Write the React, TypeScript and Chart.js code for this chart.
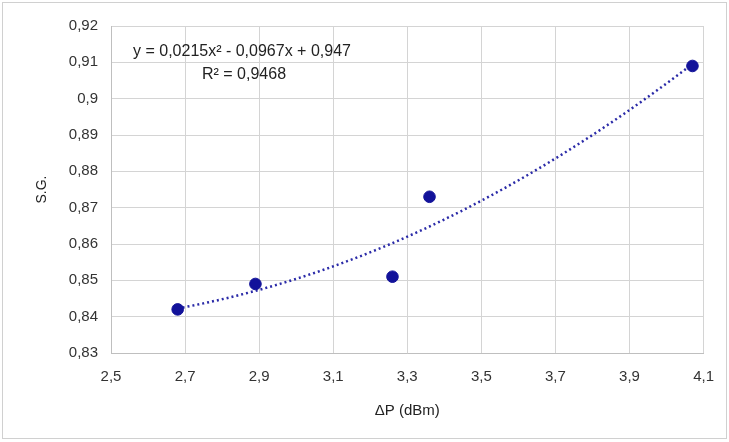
import React, { useEffect, useRef } from "react";
import { Chart, registerables } from "chart.js";

Chart.register(...registerables);

const deltaP = [2.68, 2.89, 3.26, 3.36, 4.07];
const specificGravity = [0.842, 0.849, 0.851, 0.873, 0.909];
// Excel polynomial trendline coefficients as printed on the chart: y = a x² + b x + c
const trendCoefficients = [0.0215, -0.0967, 0.947];
const trendLabel = "y = 0,0215x² - 0,0967x + 0,947";
const r2Label = "R² = 0,9468";
const xTitle = "ΔP (dBm)";
const yTitle = "S.G.";

const FONT = "'Liberation Sans', 'DejaVu Sans', sans-serif";

function fmt(v: number): string {
  return String(Math.round(v * 1000) / 1000).replace(".", ",");
}

export default function App() {
  const ref = useRef<HTMLCanvasElement | null>(null);

  useEffect(() => {
    if (!ref.current) return;
    const [a, b, c] = trendCoefficients;
    const x0 = deltaP[0];
    const x1 = deltaP[deltaP.length - 1];
    const steps = 60;
    const trend: { x: number; y: number }[] = [];
    for (let i = 0; i <= steps; i++) {
      const x = x0 + ((x1 - x0) * i) / steps;
      trend.push({ x, y: a * x * x + b * x + c });
    }

    const framePlugin = {
      id: "frame",
      beforeDraw(chart: any) {
        const ctx = chart.ctx;
        ctx.save();
        ctx.fillStyle = "#ffffff";
        ctx.fillRect(0, 0, chart.width, chart.height);
        ctx.strokeStyle = "#d0d0d0";
        ctx.lineWidth = 1;
        ctx.strokeRect(2.5, 2.5, chart.width - 5, chart.height - 6);
        ctx.restore();
      },
      afterDraw(chart: any) {
        const ctx = chart.ctx;
        const area = chart.chartArea;
        ctx.save();
        ctx.fillStyle = "#222222";
        ctx.font = `16px ${FONT}`;
        ctx.textBaseline = "middle";
        ctx.textAlign = "left";
        ctx.fillText(trendLabel, area.left + 22, 52);
        ctx.fillText(r2Label, area.left + 91, 75);
        ctx.restore();
      },
    };

    const chart = new Chart(ref.current, {
      type: "scatter",
      data: {
        datasets: [
          {
            label: "S.G.",
            data: deltaP.map((x, i) => ({ x, y: specificGravity[i] })),
            backgroundColor: "#12129a",
            borderColor: "#12129a",
            pointRadius: 5.8,
            order: 1,
          },
          {
            label: "trend",
            type: "line",
            data: trend,
            borderColor: "#2b2ba8",
            borderWidth: 2.5,
            borderDash: [2, 3],
            pointRadius: 0,
            fill: false,
            showLine: true,
            order: 2,
          } as any,
        ],
      },
      options: {
        animation: false,
        responsive: false,
        maintainAspectRatio: false,
        layout: { padding: { top: 26, right: 24, left: 34, bottom: 22 } },
        plugins: {
          legend: { display: false },
          tooltip: { enabled: false },
        },
        scales: {
          x: {
            type: "linear",
            min: 2.5,
            max: 4.1,
            ticks: {
              stepSize: 0.2,
              padding: 15,
              color: "#333333",
              font: { family: FONT, size: 15 },
              callback: (v: any) => fmt(Number(v)),
            },
            grid: { color: "#d4d4d4", drawTicks: false },
            border: { color: "#bfbfbf" },
            title: {
              display: true,
              text: xTitle,
              color: "#222222",
              font: { family: FONT, size: 15 },
              padding: { top: 0, bottom: 0 },
            },
            afterFit: (scale: any) => {
              scale.height = 442 - 22 - 353;
            },
          },
          y: {
            type: "linear",
            min: 0.83,
            max: 0.92,
            ticks: {
              stepSize: 0.01,
              padding: 3,
              color: "#333333",
              font: { family: FONT, size: 15 },
              callback: (v: any) => fmt(Number(v)),
            },
            grid: {
              color: "#d4d4d4",
              drawTicks: true,
              tickLength: 10,
              tickColor: "rgba(0,0,0,0)",
            },
            border: { color: "#bfbfbf" },
            title: {
              display: true,
              text: yTitle,
              color: "#222222",
              font: { family: FONT, size: 14 },
              padding: { top: 0, bottom: 0 },
            },
            afterFit: (scale: any) => {
              scale.width = 111 - 34;
            },
          },
        },
      },
      plugins: [framePlugin],
    } as any);

    return () => chart.destroy();
  }, []);

  return (
    <div style={{ position: "fixed", left: 0, top: 0, width: 729, height: 442, background: "#fff" }}>
      <canvas ref={ref} width={729} height={442} style={{ display: "block", width: 729, height: 442 }} />
    </div>
  );
}
